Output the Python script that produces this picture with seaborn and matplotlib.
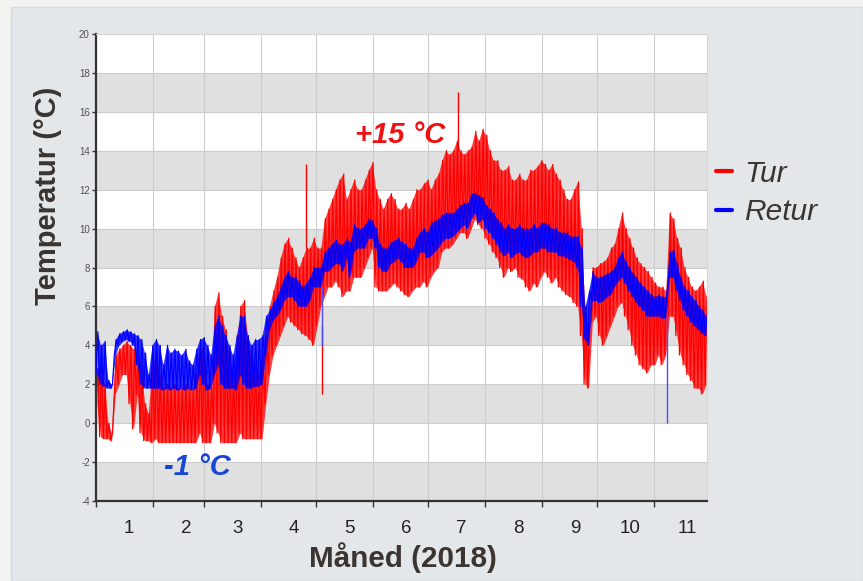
import numpy as np
import pandas as pd
import matplotlib
matplotlib.use("Agg")
import matplotlib.pyplot as plt
from matplotlib.patches import Rectangle
import seaborn as sns

# ---------------- data (2-day resolution) ----------------
day = np.arange(0, 333, 2)  # day of year 2018 (0 = 1 Jan)

# Tur (supply) lower / upper envelope, per 2 days
tur_lo = [
    # Jan
    1.0, -0.7, -0.8, -0.8, -0.9, 1.5, 2.0, 2.5, 2.5, 1.0, -0.3, 1.5, -0.5, -0.9, -0.9, -1.0,
    # Feb
    -0.8, -1.0, -1.0, -1.0, -1.0, -1.0, -1.0, -1.0, -1.0, -1.0, -1.0, -1.0, -0.5, -1.0,
    # Mar
    -1.0, -1.0, 0.0, -0.5, -1.0, -1.0, -1.0, -1.0, -1.0, -0.5, -0.8, -0.8, -0.8, -0.8, -0.8,
    # Apr
    -0.8, 1.0, 2.5, 3.5, 4.0, 4.5, 5.0, 5.5, 5.2, 5.0, 4.8, 4.6, 4.5, 4.3, 4.0,
    # May
    5.0, 6.0, 6.5, 7.0, 7.0, 7.3, 7.0, 6.5, 6.8, 6.8, 7.5, 7.5, 7.5, 8.0, 8.5, 9.0,
    # Jun
    7.0, 6.8, 6.8, 6.8, 7.0, 7.2, 7.0, 6.8, 6.6, 6.5, 6.8, 7.0, 7.0, 7.3, 7.0,
    # Jul
    7.5, 7.8, 8.0, 8.8, 9.0, 9.0, 9.2, 9.5, 9.8, 9.8, 9.5, 10.0, 10.5, 10.2, 10.0,
    # Aug
    9.5, 9.2, 8.8, 8.5, 8.0, 7.5, 8.0, 7.8, 8.0, 7.5, 7.4, 7.0, 6.8, 7.2, 7.0, 7.5,
    # Sep
    7.8, 7.5, 7.2, 7.5, 7.0, 6.8, 6.6, 6.5, 6.2, 6.0, 4.5, 2.0, 1.8, 5.2, 5.5,
    # Oct
    4.5, 4.0, 4.5, 5.0, 5.5, 6.0, 6.2, 5.5, 4.8, 4.0, 3.5, 3.0, 2.8, 2.6, 3.0,
    # Nov
    3.0, 3.5, 3.0, 3.5, 5.5, 5.5, 4.5, 3.5, 3.0, 2.5, 2.2, 1.8, 1.8, 1.5, 2.0,
]
tur_hi = [
    2.8, 3.0, 2.0, 0.0, -0.5, 3.5, 3.8, 4.0, 4.2, 4.0, 3.8, 3.5, 3.0, 1.0, 0.5, 3.0,
    3.5, 2.5, 1.8, 2.0, 1.8, 2.0, 1.8, 1.8, 2.0, 1.8, 1.7, 2.5, 3.8, 4.0,
    2.0, 1.8, 6.0, 6.7, 5.5, 4.8, 3.5, 2.5, 4.0, 6.0, 6.3, 4.5, 3.5, 3.0, 2.5,
    3.5, 4.5, 6.0, 6.8, 7.5, 8.5, 9.2, 9.5, 9.0, 8.5, 8.0, 8.5, 9.0, 9.0, 9.5,
    9.0, 9.0, 10.5, 11.0, 11.5, 12.0, 12.5, 12.8, 11.5, 12.0, 12.5, 12.0, 12.0, 12.5, 13.0, 13.4,
    12.0, 11.5, 11.0, 11.5, 11.8, 11.5, 11.0, 11.0, 11.3, 11.0, 11.5, 12.0, 12.0, 12.3, 12.5,
    12.0, 12.5, 12.8, 13.5, 14.0, 13.8, 14.0, 14.5, 14.0, 13.8, 14.0, 14.2, 15.0, 14.5, 15.1,
    14.8, 14.0, 13.5, 13.5, 13.0, 13.0, 13.2, 12.5, 12.5, 12.8, 12.5, 12.5, 13.0, 13.0, 13.2, 13.5,
    13.3, 13.0, 13.3, 12.8, 12.5, 12.0, 11.5, 11.5, 12.0, 12.4, 10.0, 5.5, 5.0, 8.0, 8.0,
    8.2, 8.3, 8.5, 9.0, 9.2, 10.0, 10.8, 10.0, 9.5, 9.0, 8.5, 8.2, 8.0, 7.8, 7.5,
    7.2, 7.0, 7.0, 6.8, 10.8, 10.5, 9.5, 9.0, 8.0, 7.5, 7.0, 6.8, 7.0, 7.3, 6.5,
]
# Retur (return) lower / upper envelope, per 2 days
ret_lo = [
    2.5, 2.0, 1.9, 1.8, 1.8, 3.5, 4.0, 4.2, 4.3, 4.2, 4.0, 3.0, 2.0, 1.8, 1.8, 1.8,
    1.8, 1.8, 1.7, 1.8, 1.7, 1.8, 1.7, 1.8, 1.7, 1.8, 1.7, 1.8, 2.5, 2.0,
    1.7, 1.8, 2.5, 3.0, 2.0, 1.8, 1.8, 1.8, 1.7, 2.5, 2.0, 1.8, 1.8, 1.9, 1.9,
    2.0, 3.5, 4.8, 5.3, 5.5, 5.8, 6.3, 6.5, 6.5, 6.3, 6.0, 6.0, 6.0, 6.3, 7.0,
    7.0, 7.0, 7.8, 7.8, 8.0, 8.2, 8.2, 7.8, 8.5, 7.5, 8.8, 9.0, 9.0, 9.0, 9.5, 9.5,
    9.0, 8.0, 7.8, 7.8, 8.2, 8.3, 8.5, 8.3, 8.0, 8.0, 8.0, 8.3, 8.8, 8.8, 8.5,
    8.6, 8.8, 9.0, 9.3, 9.5, 9.5, 9.6, 9.8, 10.0, 10.2, 10.0, 10.5, 10.8, 10.3, 10.5,
    10.0, 9.8, 9.5, 9.2, 8.8, 8.6, 8.8, 8.5, 8.7, 8.8, 8.6, 8.5, 8.6, 8.8, 8.8, 9.0,
    9.0, 8.8, 8.8, 8.8, 8.6, 8.6, 8.5, 8.4, 8.3, 8.0, 6.0, 4.3, 4.0, 6.3, 6.3,
    6.2, 6.3, 6.5, 6.6, 7.0, 7.3, 7.5, 7.2, 6.8, 6.5, 6.2, 6.0, 5.8, 5.5, 5.5,
    5.5, 5.5, 5.4, 5.4, 7.5, 7.5, 6.8, 6.3, 5.8, 5.5, 5.2, 5.0, 4.8, 4.6, 4.5,
]
ret_hi = [
    4.7, 4.0, 4.2, 2.2, 2.0, 4.3, 4.6, 4.7, 4.8, 4.7, 4.6, 4.5, 4.3, 3.6, 2.5, 4.0,
    4.3, 4.0, 3.0, 4.0, 3.6, 3.8, 3.7, 3.5, 3.8, 3.2, 3.0, 3.8, 4.3, 4.4,
    4.0, 3.5, 5.0, 5.5, 5.0, 4.5, 4.0, 3.5, 4.5, 5.5, 5.5, 4.5, 4.0, 4.3, 4.3,
    4.5, 5.5, 5.8, 6.2, 6.5, 7.0, 7.5, 7.8, 7.5, 7.5, 7.3, 7.0, 7.2, 7.5, 8.0,
    8.0, 8.0, 8.8, 9.0, 9.2, 9.4, 9.2, 9.2, 9.5, 9.3, 10.2, 10.0, 10.0, 10.2, 10.5, 10.4,
    10.0, 9.2, 9.0, 9.0, 9.3, 9.4, 9.5, 9.3, 9.2, 9.0, 9.0, 9.5, 9.8, 10.0, 9.8,
    10.3, 10.4, 10.5, 10.7, 10.8, 10.8, 10.8, 11.0, 11.2, 11.3, 11.3, 11.8, 11.8, 11.7, 11.6,
    11.2, 11.0, 10.8, 10.5, 10.3, 10.0, 10.2, 10.0, 10.0, 10.2, 10.0, 10.0, 10.0, 10.2, 10.0, 10.3,
    10.3, 10.2, 10.0, 10.0, 9.8, 9.8, 9.8, 9.6, 9.6, 9.6, 9.0, 6.0, 6.8, 7.8, 7.5,
    7.5, 7.6, 7.7, 7.8, 8.0, 8.5, 8.8, 8.3, 8.0, 7.7, 7.5, 7.2, 7.0, 6.8, 6.6,
    6.5, 6.6, 6.5, 6.5, 8.8, 8.9, 8.2, 7.5, 7.0, 6.8, 6.5, 6.3, 6.0, 5.8, 5.5,
]

# isolated single spikes: day, from, to
tur_spike_day = [114.5, 123, 197.5]
tur_spike_from = [9.0, 5.0, 14.0]
tur_spike_to = [13.3, 1.5, 17.0]
ret_spike_day = [123, 311]
ret_spike_from = [7.0, 5.5]
ret_spike_to = [4.0, 0.0]

month_start = [0, 31, 59, 90, 120, 151, 181, 212, 243, 273, 304]
month_labels = ["1", "2", "3", "4", "5", "6", "7", "8", "9", "10", "11"]
y_ticks = [-4, -2, 0, 2, 4, 6, 8, 10, 12, 14, 16, 18, 20]


def zigzag(lo, hi):
    xs, ys = [], []
    for d, a, b in zip(day, lo, hi):
        xs += [d, d + 1]
        ys += [a, b]
    return pd.DataFrame({"dag": xs, "temp": ys})


df_tur = zigzag(tur_lo, tur_hi)
df_ret = zigzag(ret_lo, ret_hi)

# ---------------- style ----------------
sns.set_theme(style="white")
plt.rcParams["font.family"] = ["Liberation Sans", "DejaVu Sans"]
TXT = "#3b3430"
RED, BLUE = "#ff0000", "#0000ff"

W, H = 863, 581
fig = plt.figure(figsize=(W / 100, H / 100), dpi=100, facecolor="#f3f3f1")
fig.patches.append(Rectangle((11 / W, 0), 1 - 11 / W, (H - 7) / H, transform=fig.transFigure,
                             facecolor="#e4e7ea", edgecolor="#d8dadb", lw=1, zorder=-10))

ax = fig.add_axes([96 / W, 1 - 501 / H, (707 - 96) / W, (501 - 34) / H])
ax.set_facecolor("white")

# alternating bands
for lo in range(-4, 20, 4):
    ax.axhspan(lo, lo + 2, color="#e0e0e0", zorder=0, lw=0)
for yv in y_ticks:
    ax.axhline(yv, color="#cdcdcd", lw=0.8, zorder=0.5)
for m in month_start[1:]:
    ax.axvline(m, color="#cdcdcd", lw=0.8, zorder=0.5)

# Tur
ax.fill_between(day + 0.5, tur_lo, tur_hi, color=RED, alpha=0.75, lw=0, zorder=1.5)
sns.lineplot(data=df_tur, x="dag", y="temp", ax=ax, color=RED, lw=0.9,
             estimator=None, sort=False, label="Tur", zorder=2)
ax.vlines(tur_spike_day, tur_spike_from, tur_spike_to, color=RED, lw=1.0, zorder=2)
# Retur
ax.fill_between(day + 0.5, ret_lo, ret_hi, color=BLUE, alpha=0.8, lw=0, zorder=2.5)
sns.lineplot(data=df_ret, x="dag", y="temp", ax=ax, color=BLUE, lw=0.9,
             estimator=None, sort=False, label="Retur", zorder=3)
ax.vlines(ret_spike_day, ret_spike_from, ret_spike_to, color="#4d4dff", lw=1.0, zorder=3)

ax.set_xlim(0, 333)
ax.set_ylim(-4, 20)
ax.set_yticks(y_ticks)
ax.set_yticklabels([str(v) for v in y_ticks])
ax.tick_params(axis="y", which="major", length=3, width=1, color="#333333", pad=1.5,
               labelsize=7, labelcolor="#505050", left=True)
ax.set_xticks(month_start)
ax.set_xticklabels([])
ax.set_xticks([m + 18 for m in month_start], minor=True)
ax.set_xticklabels(month_labels, minor=True)
ax.tick_params(axis="x", which="major", length=4, width=1, color="#333333", bottom=True)
ax.tick_params(axis="x", which="minor", length=0, pad=14, labelsize=13.5, labelcolor="#222222")

for s in ["left", "bottom"]:
    ax.spines[s].set_color("#333333")
    ax.spines[s].set_linewidth(1.6)
for s in ["top", "right"]:
    ax.spines[s].set_color("#d5d5d5")
    ax.spines[s].set_linewidth(0.8)

ax.set_xlabel("")
ax.set_ylabel("")
fig.text(48 / W, 1 - 196 / H, "Temperatur (°C)", rotation=90, ha="center", va="center",
         fontsize=21, fontweight="bold", color=TXT)
fig.text(403 / W, 1 - 558 / H, "Måned (2018)", ha="center", va="center",
         fontsize=21.3, fontweight="bold", color=TXT)

ax.text(165.7, 14.8, "+15 °C", ha="center", va="center", fontsize=21,
        fontweight="bold", fontstyle="italic", color="#ee1111", zorder=5)
ax.text(55, -2.25, "-1 °C", ha="center", va="center", fontsize=21,
        fontweight="bold", fontstyle="italic", color="#1846d4", zorder=5)

handles, labels = ax.get_legend_handles_labels()
ax.get_legend().remove()
leg = fig.legend(handles, labels, loc="center left", bbox_to_anchor=(716 / W, 1 - 193 / H),
                 frameon=False, prop={"size": 21.5, "style": "italic"},
                 handlelength=0.52, handletextpad=0.43, labelspacing=0.36,
                 borderpad=0, borderaxespad=0)
for h in leg.legend_handles:
    h.set_linewidth(3)
for t in leg.get_texts():
    t.set_color(TXT)

fig.savefig("out.png", dpi=100, facecolor=fig.get_facecolor())
